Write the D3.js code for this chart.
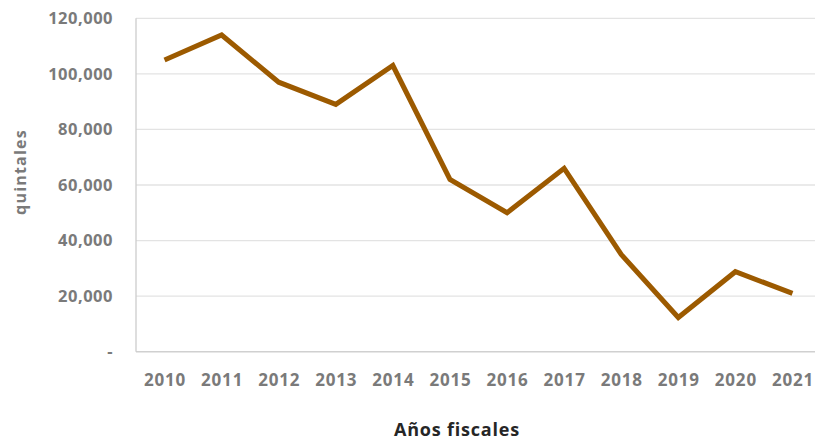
<!DOCTYPE html>
<html><head><meta charset="utf-8">
<script src="https://cdn.jsdelivr.net/npm/d3@7"></script>
<style>
html,body{margin:0;padding:0;background:#fff;}
svg{display:block;font-family:"Open Sans",sans-serif;}
</style></head>
<body>
<svg id="c" width="815" height="440"></svg>
<script>
const years = ["2010","2011","2012","2013","2014","2015","2016","2017","2018","2019","2020","2021"];
const values = [105000,114000,97000,89000,103000,62000,50000,66000,35000,12300,28800,21000];
const yTicks = [0,20000,40000,60000,80000,100000,120000];
const yTitle = "quintales";
const xTitle = "Años fiscales";

(function(){
const svg = d3.select("#c");
const mLeft = 136, mRight = 821, mTop = 18.3, mBottom = 351.7;
const x = d3.scalePoint().domain(years).range([mLeft, mRight]).padding(0.5);
const y = d3.scaleLinear().domain([0,120000]).range([mBottom, mTop]);
const fmt = v => v === 0 ? "-" : d3.format(",")(v);

// gridlines
svg.append("g").selectAll("line").data(yTicks).join("line")
  .attr("x1", mLeft).attr("x2", 815)
  .attr("y1", d => y(d)).attr("y2", d => y(d))
  .attr("stroke", d => d === 0 ? "#d0d0d0" : "#e3e3e3").attr("stroke-width", d => d===0?1.5:1.3);
// left axis line
svg.append("line").attr("x1", mLeft).attr("x2", mLeft).attr("y1", mTop).attr("y2", mBottom)
  .attr("stroke", "#cccccc").attr("stroke-width", 1.3);

// y tick labels
const yAxis = d3.axisLeft(y).tickValues(yTicks).tickFormat(fmt).tickSize(0).tickPadding(0);
const gy = svg.append("g").attr("transform", `translate(113,0)`).call(yAxis);
gy.select(".domain").remove();
gy.selectAll("text").attr("fill", "#7a7a7a").attr("font-size", "16.5px").attr("font-weight", 700)
  .attr("font-family", "'Open Sans',sans-serif").attr("letter-spacing", "0.5px");

// x tick labels
const xAxis = d3.axisBottom(x).tickSize(0).tickPadding(0);
const gx = svg.append("g").attr("transform", `translate(0,374)`).call(xAxis);
gx.select(".domain").remove();
gx.selectAll("text").attr("fill", "#7a7a7a").attr("font-size", "17px").attr("font-weight", 700)
  .attr("font-family", "'Open Sans',sans-serif").attr("letter-spacing", "0.8px");

// line
const line = d3.line().x((d,i) => x(years[i])).y(d => y(d));
svg.append("path").datum(values).attr("d", line)
  .attr("fill", "none").attr("stroke", "#9c5a00").attr("stroke-width", 5)
  .attr("stroke-linejoin", "miter").attr("stroke-linecap", "butt");

// titles
svg.append("text").attr("transform", "translate(26,172) rotate(-90)")
  .attr("text-anchor", "middle").attr("fill", "#7a7a7a").attr("font-size", "16px").attr("font-weight", 700)
  .attr("letter-spacing", "1.2px").text(yTitle);
svg.append("text").attr("x", 457).attr("y", 436).attr("text-anchor", "middle")
  .attr("fill", "#262626").attr("font-size", "18px").attr("font-weight", 700)
  .attr("letter-spacing", "0.8px").text(xTitle);
})();
</script>
</body></html>
